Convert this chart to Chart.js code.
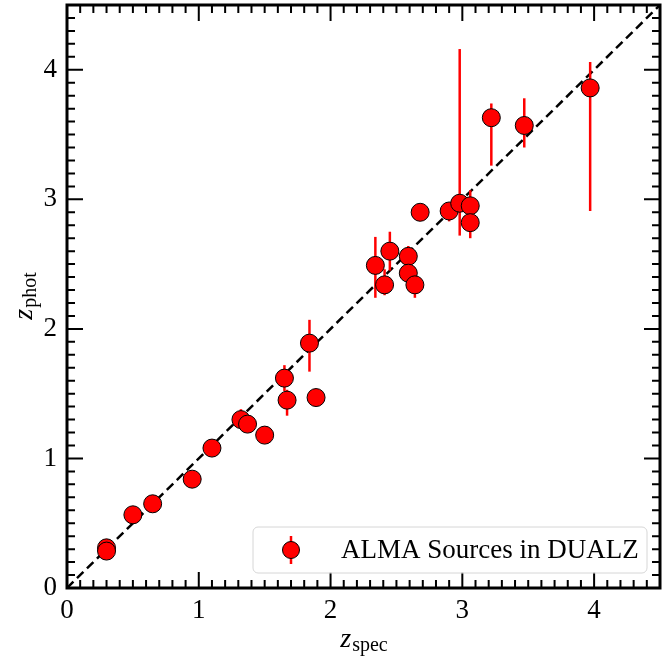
<!DOCTYPE html>
<html>
<head>
<meta charset="utf-8">
<script src="https://cdn.jsdelivr.net/npm/chart.js@4/dist/chart.umd.min.js"></script>
<style>
html, body { margin: 0; padding: 0; background: #fff; }
</style>
</head>
<body>
<canvas id="chart" width="671" height="657"></canvas>
<script>
// spectroscopic vs photometric redshifts
const zSpec = [0.30, 0.30, 0.50, 0.65, 0.95, 1.10, 1.32, 1.37, 1.50, 1.65, 1.67, 1.84, 1.89,
	2.34, 2.41, 2.45, 2.59, 2.59, 2.64, 2.68, 2.90, 2.98, 3.06, 3.06, 3.22, 3.47, 3.97];
const zPhot = [0.31, 0.285, 0.565, 0.65, 0.84, 1.08, 1.30, 1.265, 1.18, 1.62, 1.45, 1.89, 1.47,
	2.49, 2.34, 2.60, 2.56, 2.43, 2.34, 2.90, 2.91, 2.97, 2.95, 2.82, 3.63, 3.57, 3.86];
const errLow = [0, 0, 0, 0, 0, 0, 0, 0, 0, 0.10, 0.12, 0.22, 0,
	0.25, 0.08, 0.15, 0.08, 0, 0.10, 0, 0.08, 0.25, 0.05, 0.12, 0.37, 0.17, 0.95];
const errHigh = [0, 0, 0, 0, 0, 0, 0.08, 0, 0, 0.10, 0.08, 0.18, 0,
	0.22, 0.12, 0.15, 0.08, 0, 0.11, 0, 0, 1.19, 0.12, 0.05, 0.11, 0.21, 0.20];
const oneToOne = [0, 4.5];
const tickValues = [0, 1, 2, 3, 4];
const axisMin = 0, axisMax = 4.5, minorStep = 0.1;
const legendLabel = 'ALMA Sources in DUALZ';

const serif = '"Liberation Serif", "Times New Roman", serif';
const red = '#ff0000';

const points = zSpec.map((x, i) => ({ x: x, y: zPhot[i] }));
const diagonal = oneToOne.map(v => ({ x: v, y: v }));

const errorBars = {
	id: 'errorBars',
	beforeDatasetDraw(chart, args) {
		if (args.index !== 1) return;
		const { ctx, chartArea: a, scales: { x, y } } = chart;
		ctx.save();
		ctx.beginPath();
		ctx.rect(a.left, a.top, a.right - a.left, a.bottom - a.top);
		ctx.clip();
		ctx.strokeStyle = red;
		ctx.lineWidth = 2.5;
		points.forEach((p, i) => {
			if (!errLow[i] && !errHigh[i]) return;
			const px = x.getPixelForValue(p.x);
			ctx.beginPath();
			ctx.moveTo(px, y.getPixelForValue(p.y - errLow[i]));
			ctx.lineTo(px, y.getPixelForValue(p.y + errHigh[i]));
			ctx.stroke();
		});
		ctx.restore();
	}
};

function drawSubLabel(ctx, main, sub, cx, baseline) {
	ctx.font = 'italic 28px ' + serif;
	const w1 = ctx.measureText(main).width;
	ctx.font = '20px ' + serif;
	const w2 = ctx.measureText(sub).width;
	const start = cx - (w1 + w2) / 2;
	ctx.textAlign = 'left';
	ctx.textBaseline = 'alphabetic';
	ctx.font = 'italic 28px ' + serif;
	ctx.fillText(main, start, baseline);
	ctx.font = '20px ' + serif;
	ctx.fillText(sub, start + w1 + 1, baseline + 4);
}

const frame = {
	id: 'frame',
	afterDatasetsDraw(chart) {
		const { ctx, chartArea: a, scales: { x, y } } = chart;
		ctx.save();
		ctx.strokeStyle = '#000';
		ctx.lineWidth = 2;
		const n = Math.round((axisMax - axisMin) / minorStep);
		for (let i = 0; i <= n; i++) {
			const v = axisMin + i * minorStep;
			const len = i % 10 === 0 ? 16 : 8;
			const px = x.getPixelForValue(v);
			const py = y.getPixelForValue(v);
			ctx.beginPath();
			ctx.moveTo(px, a.bottom); ctx.lineTo(px, a.bottom - len);
			ctx.moveTo(px, a.top); ctx.lineTo(px, a.top + len);
			ctx.moveTo(a.left, py); ctx.lineTo(a.left + len, py);
			ctx.moveTo(a.right, py); ctx.lineTo(a.right - len, py);
			ctx.stroke();
		}
		ctx.lineWidth = 3;
		ctx.strokeRect(a.left, a.top, a.right - a.left, a.bottom - a.top);

		// axis titles
		ctx.fillStyle = '#000';
		drawSubLabel(ctx, 'z', 'spec', (a.left + a.right) / 2, 647);
		ctx.translate(32, (a.top + a.bottom) / 2);
		ctx.rotate(-Math.PI / 2);
		drawSubLabel(ctx, 'z', 'phot', 0, 0);
		ctx.restore();
	},
	afterDraw(chart) {
		const ctx = chart.ctx;
		// legend box, lower right
		const bx = 253, by = 527, bw = 394, bh = 46;
		ctx.save();
		ctx.beginPath();
		ctx.roundRect(bx, by, bw, bh, 5);
		ctx.fillStyle = 'rgba(255,255,255,0.8)';
		ctx.fill();
		ctx.strokeStyle = '#d6d6d6';
		ctx.lineWidth = 1;
		ctx.stroke();
		const mx = 291, my = by + bh / 2;
		ctx.strokeStyle = red;
		ctx.lineWidth = 2.5;
		ctx.beginPath();
		ctx.moveTo(mx, my - 14); ctx.lineTo(mx, my + 14);
		ctx.stroke();
		ctx.beginPath();
		ctx.arc(mx, my, 8.5, 0, Math.PI * 2);
		ctx.fillStyle = red;
		ctx.fill();
		ctx.strokeStyle = '#000';
		ctx.lineWidth = 1;
		ctx.stroke();
		ctx.fillStyle = '#000';
		ctx.font = '27px ' + serif;
		ctx.textAlign = 'left';
		ctx.textBaseline = 'alphabetic';
		ctx.fillText(legendLabel, 341, 558);
		ctx.restore();
	}
};

const fixedTicks = scale => {
	scale.ticks = tickValues.map(v => ({ value: v }));
};

new Chart(document.getElementById('chart'), {
	type: 'scatter',
	data: {
		datasets: [
			{
				type: 'line',
				data: diagonal,
				borderColor: '#000',
				borderWidth: 2.5,
				borderDash: [9, 5],
				pointRadius: 0,
				fill: false,
				order: 2,
			},
			{
				label: legendLabel,
				data: points,
				pointRadius: 9,
				pointHoverRadius: 9,
				backgroundColor: red,
				borderColor: '#000',
				borderWidth: 1,
				order: 1,
			},
		],
	},
	options: {
		responsive: false,
		animation: false,
		events: [],
		layout: { autoPadding: false, padding: { top: 5, right: 11, left: 0, bottom: 0 } },
		plugins: { legend: { display: false }, tooltip: { enabled: false } },
		scales: {
			x: {
				type: 'linear',
				min: axisMin,
				max: axisMax,
				grid: { display: false, drawTicks: false },
				border: { display: false },
				afterBuildTicks: fixedTicks,
				ticks: {
					autoSkip: false,
					maxRotation: 0,
					padding: 7,
					color: '#000',
					font: { family: serif, size: 27 },
				},
				afterFit(scale) {
					scale.height = 69;
					scale.paddingLeft = 0;
					scale.paddingRight = 0;
				},
			},
			y: {
				type: 'linear',
				min: axisMin,
				max: axisMax,
				grid: { display: false, drawTicks: false },
				border: { display: false },
				afterBuildTicks: fixedTicks,
				ticks: {
					autoSkip: false,
					padding: 10,
					color: '#000',
					font: { family: serif, size: 27 },
				},
				afterFit(scale) {
					scale.width = 67;
					scale.paddingTop = 0;
					scale.paddingBottom = 0;
				},
			},
		},
	},
	plugins: [errorBars, frame],
});
</script>
</body>
</html>
